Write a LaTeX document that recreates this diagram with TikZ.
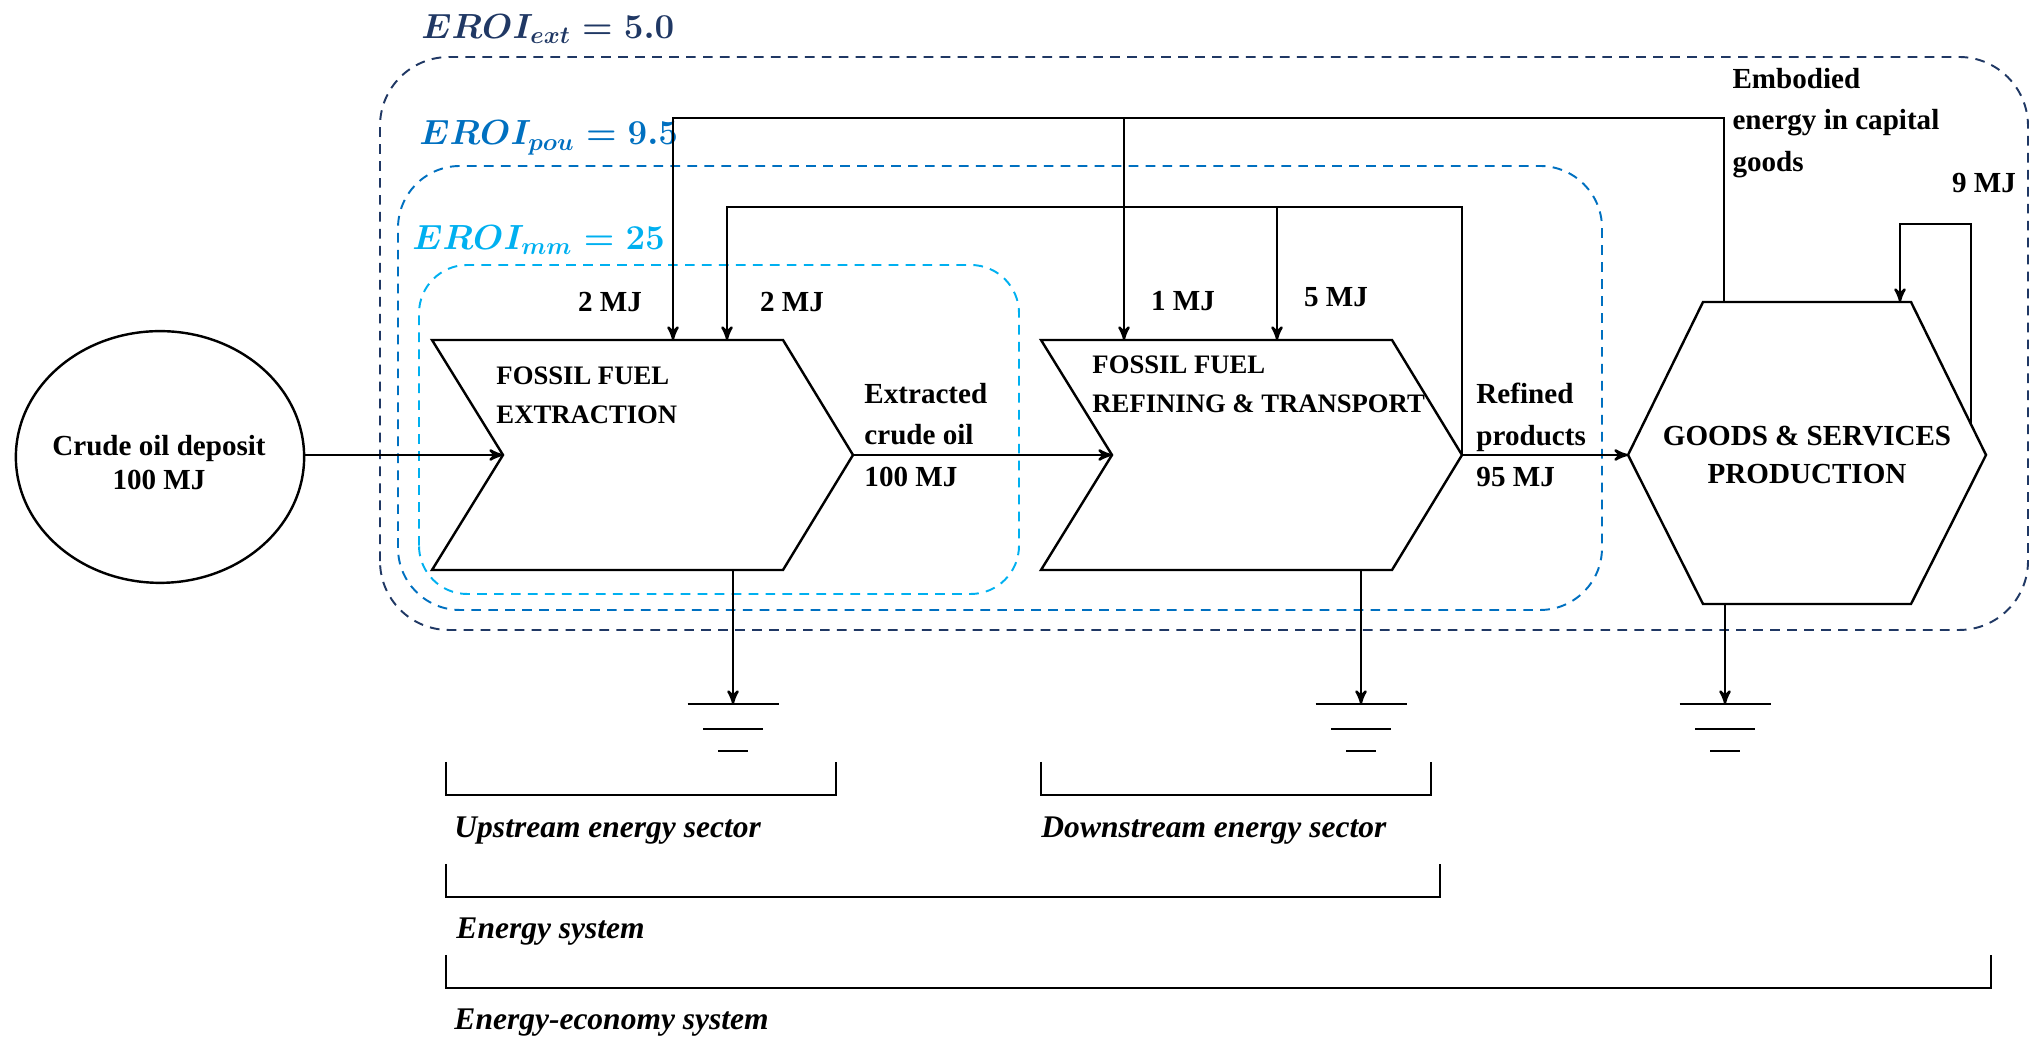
\documentclass[tikz,border=0pt]{standalone}
\usepackage{fontspec}
\setmainfont{Liberation Serif}
\usepackage{amsmath}
\usepackage{tikz}
\usetikzlibrary{calc}
\usetikzlibrary{arrows}
\usetikzlibrary{shapes.geometric}

\definecolor{extblue}{HTML}{203864}
\definecolor{poublue}{HTML}{0070C0}
\definecolor{mmblue}{HTML}{00B0F0}

\tikzset{
  flow/.style={black, line width=1pt, ->, >=stealth'},
  wire/.style={black, line width=1pt},
  boundary/.style={dash pattern=on 4pt off 3pt, line width=.8pt},
  eroi/.style={font=\Large\boldmath, anchor=west, inner sep=0pt},
  mj/.style={font=\bfseries\fontsize{12}{17}\selectfont, inner sep=0pt},
  txt/.style={font=\bfseries\fontsize{12}{17}\selectfont, align=left, anchor=west, inner sep=0pt},
  stagetxt/.style={font=\bfseries\fontsize{11}{16}\selectfont, align=left, anchor=west, inner sep=0pt},
  sector/.style={font=\bfseries\itshape\fontsize{13}{15}\selectfont, anchor=west, inner sep=0pt},
  bracket/.style={black, semithick},
}

\begin{document}
\begin{tikzpicture}[x=1.45cm, y=1.45cm]
\useasboundingbox (0,0) rectangle (20.32,10.39);

% system boundaries
\draw[boundary, extblue, rounded corners=1cm] (3.80,4.09) rectangle (20.28,9.82);
\draw[boundary, poublue, rounded corners=.9cm] (3.98,4.29) rectangle (16.02,8.73);
\draw[boundary, mmblue, rounded corners=.7cm] (4.19,4.45) rectangle (10.19,7.74);
\node[eroi, text=extblue] (eroi-ext) at (4.21,10.10) {$EROI_{ext} = 5.0$};
\node[eroi, text=poublue] (eroi-pou) at (4.19,9.01) {$EROI_{pou} = 9.5$};
\node[eroi, text=mmblue] (eroi-mm) at (4.12,7.99) {$EROI_{mm} = 25$};

% deposit
\node[draw, line width=1pt, ellipse, inner sep=0pt, minimum width=4.18cm, minimum height=3.65cm] (deposit) at (1.60,5.82) {};
\node[font=\bfseries\fontsize{12}{14}\selectfont, align=center] (deposit-lbl) at (1.59,5.76) {Crude oil deposit\\100 MJ};

% the two energy sector stages
\foreach \s/\x in {ext/4.32, ref/10.41} {
  \coordinate (\s-tl) at (\x,6.99);
  \coordinate (\s-tr) at (\x+3.51,6.99);
  \coordinate (\s-tip) at (\x+4.21,5.84);
  \coordinate (\s-br) at (\x+3.51,4.69);
  \coordinate (\s-bl) at (\x,4.69);
  \coordinate (\s-notch) at (\x+0.71,5.84);
  \draw[wire] (\s-tl) -- (\s-tr) -- (\s-tip) -- (\s-br) -- (\s-bl) -- (\s-notch) -- cycle;
}
\node[stagetxt] (ext-lbl) at (4.96,6.44) {FOSSIL FUEL\\EXTRACTION};
\node[stagetxt] (ref-lbl) at (10.92,6.55) {FOSSIL FUEL\\REFINING \& TRANSPORT};

% goods and services
\coordinate (gs-l) at (16.28,5.84);
\coordinate (gs-tl) at (17.03,7.37);
\coordinate (gs-tr) at (19.11,7.37);
\coordinate (gs-r) at (19.86,5.84);
\coordinate (gs-br) at (19.11,4.35);
\coordinate (gs-bl) at (17.03,4.35);
\draw[wire] (gs-l) -- (gs-tl) -- (gs-tr) -- (gs-r) -- (gs-br) -- (gs-bl) -- cycle;
\node[font=\bfseries\fontsize{12}{15.5}\selectfont, align=center] (gs) at (18.07,5.84) {GOODS \& SERVICES\\PRODUCTION};

% main flow
\draw[flow] (deposit.east |- ext-notch) -- (ext-notch);
\draw[flow] (ext-tip) -- (ref-notch);
\draw[flow] (ref-tip) -- (gs-l);
\node[txt] (crude-lbl) at (8.64,6.04) {Extracted\\crude oil\\100 MJ};
\node[txt] (refined-lbl) at (14.76,6.04) {Refined\\products\\95 MJ};

% energy fed back
\coordinate (bus-a) at (0,9.21);
\coordinate (bus-b) at (0,8.32);
\coordinate (bus-c) at (0,8.15);
\coordinate (ext-in-a) at (6.73,6.99);
\coordinate (ext-in-b) at (7.27,6.99);
\coordinate (ref-in-a) at (11.24,6.99);
\coordinate (ref-in-b) at (12.77,6.99);
\coordinate (gs-emb) at (17.24,7.37);
\coordinate (gs-self-in) at (19.00,7.37);
\coordinate (gs-self-out) at ($(gs-tr)!0.8!(gs-r)$);
\draw[flow] (gs-emb) -- (gs-emb |- bus-a) -| (ext-in-a);
\draw[flow] (ref-in-a |- bus-a) -- (ref-in-a);
\draw[flow] (ref-tip) -- (ref-tip |- bus-b) -| (ext-in-b);
\draw[flow] (ref-in-b |- bus-b) -- (ref-in-b);
\draw[flow] (gs-self-out) -- (gs-self-out |- bus-c) -| (gs-self-in);
\node[mj] (mj-ext-a) at (6.10,7.37) {2 MJ};
\node[mj] (mj-ext-b) at (7.92,7.37) {2 MJ};
\node[mj] (mj-ref-a) at (11.83,7.38) {1 MJ};
\node[mj] (mj-ref-b) at (13.36,7.42) {5 MJ};
\node[mj] (mj-self) at (19.84,8.56) {9 MJ};
\node[txt] (emb-lbl) at (17.32,9.16) {Embodied\\energy in capital\\goods};

% losses
\coordinate (gnd) at (0,3.35);
\coordinate (ext-loss) at (7.33,4.69);
\coordinate (ref-loss) at (13.61,4.69);
\coordinate (gs-loss) at (17.25,4.35);
\foreach \s in {ext,ref,gs} {
  \coordinate (\s-gnd) at (\s-loss |- gnd);
  \draw[flow] (\s-loss) -- (\s-gnd);
  \draw[wire] ($(\s-gnd)+(-.455,0)$) -- ++(.91,0);
  \draw[wire] ($(\s-gnd)+(-.30,-.25)$) -- ++(.60,0);
  \draw[wire] ($(\s-gnd)+(-.15,-.47)$) -- ++(.30,0);
}

% sectors
\draw[bracket] (4.46,2.77) |- (8.36,2.44) -- (8.36,2.77);
\draw[bracket] (10.41,2.77) |- (14.31,2.44) -- (14.31,2.77);
\draw[bracket] (4.46,1.75) |- (14.40,1.42) -- (14.40,1.75);
\draw[bracket] (4.46,0.84) |- (19.91,0.51) -- (19.91,0.84);
\node[sector] (up-lbl) at (4.54,2.08) {Upstream energy sector};
\node[sector] (down-lbl) at (10.41,2.08) {Downstream energy sector};
\node[sector] (es-lbl) at (4.56,1.07) {Energy system};
\node[sector] (ees-lbl) at (4.54,0.16) {Energy-economy system};
\end{tikzpicture}
\end{document}
